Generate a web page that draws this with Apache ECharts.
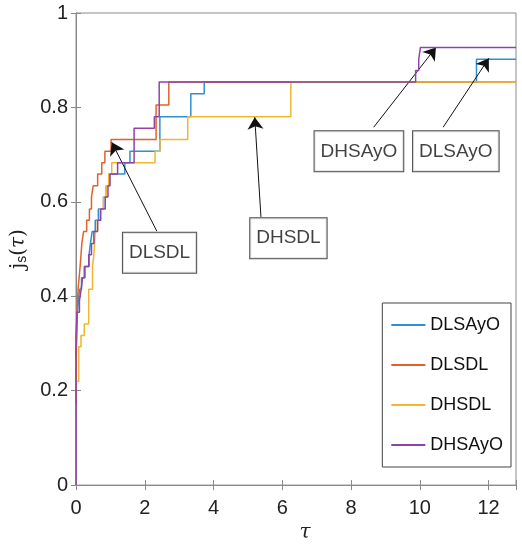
<!DOCTYPE html>
<html>
<head>
<meta charset="utf-8">
<script src="https://cdn.jsdelivr.net/npm/echarts@6/dist/echarts.min.js"></script>
<style>html,body{margin:0;padding:0;background:#fff}#c{width:522px;height:548px}</style>
</head>
<body>
<div id="c"></div>
<script>
// ---- data (performance profile, step curves) ----
const xTicks = [0, 2, 4, 6, 8, 10, 12];
const yTicks = [0, 0.2, 0.4, 0.6, 0.8, 1];
const seriesNames = ['DLSAyO', 'DLSDL', 'DHSDL', 'DHSAyO'];

const dlsayoX = [0, 0.02, 0.04, 0.07, 0.10, 0.16, 0.24, 0.38, 0.42, 0.47, 0.56, 0.65, 0.80, 0.88, 0.96, 1.42, 1.57, 2.44, 3.34, 3.73, 11.65, 12.8];
const dlsayoY = [0.268, 0.317, 0.366, 0.390, 0.415, 0.439, 0.463, 0.488, 0.512, 0.537, 0.561, 0.585, 0.610, 0.634, 0.659, 0.683, 0.707, 0.780, 0.829, 0.854, 0.902, 0.902];

const dlsdlX = [0, 0.01, 0.03, 0.06, 0.09, 0.12, 0.17, 0.22, 0.31, 0.39, 0.45, 0.50, 0.63, 0.75, 0.84, 1.02, 2.33, 2.70, 12.8];
const dlsdlY = [0.171, 0.293, 0.366, 0.415, 0.439, 0.463, 0.512, 0.537, 0.561, 0.585, 0.610, 0.634, 0.659, 0.683, 0.707, 0.732, 0.805, 0.854, 0.854];

const dhsdlX = [0, 0.08, 0.145, 0.24, 0.37, 0.48, 0.52, 0.56, 0.62, 0.70, 0.80, 0.88, 0.95, 1.04, 2.30, 2.44, 3.25, 6.25, 12.8];
const dhsdlY = [0.220, 0.293, 0.317, 0.341, 0.415, 0.463, 0.488, 0.537, 0.561, 0.585, 0.610, 0.634, 0.659, 0.683, 0.707, 0.732, 0.780, 0.854, 0.854];

const dhsayoX = [0, 0, 0.03, 0.10, 0.15, 0.19, 0.26, 0.37, 0.45, 0.52, 0.63, 0.72, 0.85, 0.93, 0.99, 1.21, 1.69, 2.28, 2.42, 9.88, 9.97, 10.02, 12.8];
const dhsayoY = [0, 0.317, 0.366, 0.390, 0.415, 0.439, 0.463, 0.488, 0.512, 0.537, 0.561, 0.585, 0.610, 0.634, 0.659, 0.683, 0.756, 0.780, 0.854, 0.878, 0.902, 0.927, 0.927];

// annotations (data coordinates): label, box centre, arrow tail, arrow tip
const annoLabels = ['DLSDL', 'DHSDL', 'DHSAyO', 'DLSAyO'];
const annoBoxX = [2.43, 6.18, 8.23, 11.05];
const annoBoxY = [0.492, 0.523, 0.707, 0.707];
const annoTailX = [2.35, 5.38, 8.66, 10.68];
const annoTailY = [0.538, 0.568, 0.758, 0.758];
const annoTipX = [1.04, 5.20, 10.47, 12.01];
const annoTipY = [0.726, 0.779, 0.927, 0.904];

const xMin = 0, xMax = 12.8;
// ---------------------------------------------------

const colors = ['#2f8fd0', '#e0622b', '#f0b62e', '#8e44a6'];
const FONT = "'Liberation Sans', Arial, sans-serif";
const zip = (xs, ys) => xs.map((x, i) => [x, ys[i]]);
const allX = [dlsayoX, dlsdlX, dhsdlX, dhsayoX];
const allY = [dlsayoY, dlsdlY, dhsdlY, dhsayoY];

const axisGray = '#8a8a8a';
const chart = echarts.init(document.getElementById('c'), null, {renderer: 'canvas'});

const lineSeries = seriesNames.map((n, i) => ({
  name: n, type: 'line', step: 'end', showSymbol: false, symbol: 'none',
  data: zip(allX[i], allY[i]),
  lineStyle: {color: colors[i], width: 1.5},
  itemStyle: {color: colors[i]},
  emphasis: {disabled: true}, z: 2 + i
}));

const arrowSeries = {
  type: 'line', data: [], silent: true, z: 10,
  markLine: {
    silent: true, symbol: ['none', 'arrow'], symbolSize: 12,
    label: {show: false},
    lineStyle: {color: '#111', width: 1, type: 'solid'},
    emphasis: {disabled: true},
    animation: false,
    data: annoLabels.map((l, i) => [
      {coord: [annoTailX[i], annoTailY[i]]},
      {coord: [annoTipX[i], annoTipY[i]]}
    ])
  }
};

const boxSeries = {
  type: 'scatter', silent: true, z: 20, symbolSize: 1,
  itemStyle: {color: 'rgba(0,0,0,0)'},
  data: annoLabels.map((l, i) => [annoBoxX[i], annoBoxY[i], l]),
  label: {
    show: true, position: 'inside', formatter: p => p.data[2],
    color: '#111', fontSize: 19, fontFamily: FONT,
    backgroundColor: '#fff', borderColor: '#222', borderWidth: 1,
    padding: [10, 6, 9, 6], lineHeight: 21
  },
  emphasis: {disabled: true}
};

chart.setOption({
  animation: false,
  backgroundColor: '#fff',
  grid: {left: 76, right: 6, top: 13, bottom: 51, show: true, borderColor: axisGray, borderWidth: 1, containLabel: false},
  legend: {
    data: seriesNames, orient: 'vertical', right: 11, top: 303,
    backgroundColor: '#fff', borderColor: '#444', borderWidth: 1,
    padding: [13, 8, 13, 9], itemGap: 22, itemWidth: 34, itemHeight: 2,
    icon: 'rect',
    textStyle: {fontSize: 18, fontFamily: FONT, color: '#111', padding: [0, 0, 0, 0]}
  },
  xAxis: [{
    type: 'value', min: xMin, max: xMax, interval: 2, position: 'bottom',
    name: 'τ', nameLocation: 'middle', nameGap: 19,
    nameTextStyle: {fontSize: 20, fontStyle: 'italic', fontFamily: "'DejaVu Serif', serif", color: '#222', padding: [0, 0, 0, 18]},
    axisLine: {show: true, lineStyle: {color: axisGray}},
    axisTick: {show: true, inside: true, length: 5, lineStyle: {color: axisGray}},
    axisLabel: {fontSize: 20, fontFamily: FONT, color: '#222', margin: 13,
      formatter: v => (xTicks.indexOf(v) >= 0 ? String(v) : '')},
    splitLine: {show: false}
  }, {
    type: 'value', min: xMin, max: xMax, interval: 2, position: 'top',
    axisLine: {show: true, lineStyle: {color: axisGray}},
    axisTick: {show: true, inside: true, length: 5, lineStyle: {color: axisGray}},
    axisLabel: {show: false}, splitLine: {show: false}
  }],
  yAxis: [{
    type: 'value', min: 0, max: 1, interval: 0.2, position: 'left',
    name: '{j|j}{s|s}{p|(}{t|τ}{p|)}', nameLocation: 'middle', nameGap: 46, nameRotate: 90,
    nameTextStyle: {
      rich: {
        j: {fontSize: 20, fontFamily: "'DejaVu Serif', serif", color: '#222'},
        s: {fontSize: 14, fontFamily: FONT, color: '#222', verticalAlign: 'bottom', padding: [8, 0, 0, 0]},
        p: {fontSize: 20, fontFamily: "'DejaVu Serif', serif", color: '#222'},
        t: {fontSize: 20, fontStyle: 'italic', fontFamily: "'DejaVu Serif', serif", color: '#222'}
      }
    },
    axisLine: {show: true, lineStyle: {color: axisGray}},
    axisTick: {show: true, inside: true, length: 5, lineStyle: {color: axisGray}},
    axisLabel: {fontSize: 20, fontFamily: FONT, color: '#222', margin: 8,
      formatter: v => (yTicks.indexOf(+v.toFixed(2)) >= 0 ? String(+v.toFixed(2)) : '')},
    splitLine: {show: false}
  }, {
    type: 'value', min: 0, max: 1, interval: 0.2, position: 'right',
    axisLine: {show: true, lineStyle: {color: axisGray}},
    axisTick: {show: true, inside: true, length: 5, lineStyle: {color: axisGray}},
    axisLabel: {show: false}, splitLine: {show: false}
  }],
  series: lineSeries.concat([arrowSeries, boxSeries])
});
</script>
</body>
</html>
